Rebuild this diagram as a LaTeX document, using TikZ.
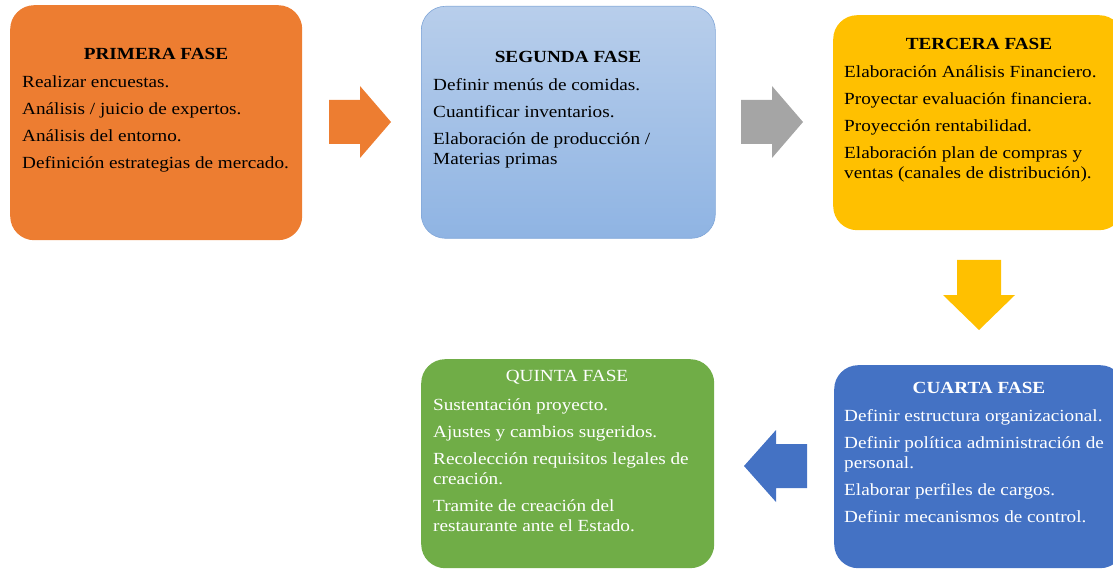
\documentclass[tikz,border=0pt]{standalone}
\usepackage{fontspec}
\setmainfont[FakeStretch=1.13]{Liberation Serif}

\definecolor{naranja}{HTML}{ED7D31}
\definecolor{celesteA}{RGB}{184,206,235}
\definecolor{celesteB}{RGB}{143,180,227}
\definecolor{celesteC}{RGB}{128,166,216}
\definecolor{gris}{HTML}{A5A5A5}
\definecolor{amarillo}{HTML}{FFC000}
\definecolor{azul}{HTML}{4472C4}
\definecolor{verde}{HTML}{70AD47}

\tikzset{
    fase/.style={rounded corners=24pt, inner sep=0pt, anchor=north west},
    titulo/.style={anchor=base, inner sep=0pt, font=\fontsize{17}{20}\selectfont\bfseries},
    lista/.style={anchor=base west, inner sep=0pt, font=\fontsize{17}{20}\selectfont},
}
\newcommand{\items}[1]{\parbox[t]{285pt}{\raggedright #1}}

\begin{document}
\begin{tikzpicture}[x=1pt,y=-1pt]
            \clip (0,0) rectangle (1113,569);

            \node[fase, fill=naranja, minimum width=292pt, minimum height=235pt] (F1) at (10,5) {};
            \node[fase, top color=celesteA, bottom color=celesteB, draw=celesteC, line width=.6pt,
                minimum width=294pt, minimum height=232pt] (F2) at (421,6) {};
            \node[fase, fill=amarillo, minimum width=290pt, minimum height=215pt] (F3) at (833,15) {};
            \node[fase, fill=azul, minimum width=290pt, minimum height=203pt] (F4) at (834,365) {};
            \node[fase, fill=verde, minimum width=293pt, minimum height=209pt] (F5) at (421,359) {};

            \node[titulo] (T1) at (156,60) {PRIMERA FASE};
            \node[titulo] (T2) at (568,62.3) {SEGUNDA FASE};
            \node[titulo] (T3) at (979,49.3) {TERCERA FASE};
            \node[titulo, text=white] (T4) at (979,393.3) {CUARTA FASE};
            \node[titulo, text=white, font=\fontsize{17}{20}\selectfont] (T5) at (567,381.7) {QUINTA FASE};

            \node[lista] (L1) at (22,87.5) {\items{Realizar encuestas.\\[7pt]
                Análisis / juicio de expertos.\\[7pt] Análisis del entorno.\\[7pt]
                Definición estrategias de mercado.}};
            \node[lista] (L2) at (433,90.7) {\items{Definir menús de comidas.\\[7pt]
                Cuantificar inventarios.\\[7pt] Elaboración de producción /\\ Materias primas}};
            \node[lista] (L3) at (844,77.3) {\items{Elaboración Análisis Financiero.\\[7pt]
                Proyectar evaluación financiera.\\[7pt] Proyección rentabilidad.\\[7pt]
                Elaboración plan de compras y\\ ventas (canales de distribución).}};
            \node[lista, text=white] (L4) at (844,421.7) {\items{Definir estructura organizacional.\\[7pt]
                Definir política administración de\\ personal.\\[7pt]
                Elaborar perfiles de cargos.\\[7pt] Definir mecanismos de control.}};
            \node[lista, text=white] (L5) at (433,410) {\items{Sustentación proyecto.\\[7pt]
                Ajustes y cambios sugeridos.\\[7pt] Recolección requisitos legales de\\ creación.\\[7pt]
                Tramite de creación del\\ restaurante ante el Estado.}};

            \fill[naranja] (329,100) -- (360,100) -- (360,86) -- (391,122) -- (360,158) -- (360,144) -- (329,144) -- cycle;
            \fill[gris] (741,100) -- (772,100) -- (772,86) -- (803,122) -- (772,158) -- (772,144) -- (741,144) -- cycle;
            \fill[amarillo] (957,260) -- (1001,260) -- (1001,295) -- (1015,295) -- (979,330) -- (943,295) -- (957,295) -- cycle;
            \fill[azul] (807,444) -- (776,444) -- (776,430) -- (744,466) -- (776,502) -- (776,488) -- (807,488) -- cycle;
        \end{tikzpicture}
\end{document}
